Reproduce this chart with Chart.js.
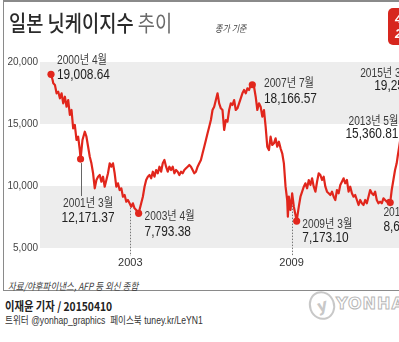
<!DOCTYPE html>
<html><head><meta charset="utf-8">
<script src="https://cdn.jsdelivr.net/npm/chart.js@4"></script>
<style>
html,body{margin:0;padding:0;width:399px;height:342px;overflow:hidden;background:#fff;}
#wrap{position:relative;width:399px;height:342px;overflow:hidden;}
#frame{position:absolute;left:3px;top:0px;width:470px;height:291px;border:1px solid #8a8a8a;border-top-width:2px;box-sizing:border-box;}
#cv{position:absolute;left:0;top:0;}
.txt{position:absolute;white-space:nowrap;line-height:1;transform-origin:0 0;font-family:'Noto Sans CJK KR',sans-serif;}
#title{left:9px;top:10px;font-size:22px;transform:scaleX(0.85);}
#title .t1{color:#2a2a2a;font-weight:500;}
#title .t2{color:#6a6a6a;font-weight:400;}
#basis{left:215px;top:24px;font-size:9.5px;font-style:italic;color:#444;transform:scaleX(0.85);}
#src{left:8px;top:281px;font-size:10px;font-style:italic;color:#3a3a3a;transform:scaleX(0.85);}
#by{left:5px;top:300px;font-size:12px;font-weight:700;color:#222;transform:scaleX(0.86);}
#sns{left:5px;top:315.5px;font-size:10px;color:#333;transform:scaleX(0.86);font-family:'Liberation Sans','Noto Sans CJK KR',sans-serif;}
#badge{position:absolute;left:388px;top:8px;width:60px;height:37px;background:#d7261e;border-radius:5px;color:#fff;font-family:'Liberation Sans','Noto Sans CJK KR',sans-serif;font-weight:700;font-style:italic;font-size:13px;line-height:15px;padding:3px 0 0 7px;box-sizing:border-box;white-space:nowrap;}
#logo{position:absolute;left:309px;top:291px;width:22px;height:25px;border:2px solid #c8c8c8;border-radius:50%;transform:rotate(-20deg);color:#c8c8c8;font:italic 700 16px 'DejaVu Sans';text-align:center;line-height:25px;}
#yon{position:absolute;left:336px;top:294px;font:700 16px 'DejaVu Sans',sans-serif;letter-spacing:1px;color:#fff;-webkit-text-stroke:1px #b8b8b8;white-space:nowrap;}
</style></head>
<body><div id="wrap">
<div id="frame"></div>
<canvas id="cv" width="480" height="272"></canvas>
<div id="title" class="txt"><span class="t1">일본 닛케이지수</span> <span class="t2">추이</span></div>
<div id="basis" class="txt">종가 기준</div>
<div id="badge">4월 10일<br>20,006</div>
<div id="src" class="txt">자료/야후파이낸스, AFP 등 외신 종합</div>
<div id="by" class="txt">이재윤 기자 / 20150410</div>
<div id="sns" class="txt">트위터 @yonhap_graphics &nbsp;페이스북 tuney.kr/LeYN1</div>
<div id="logo">y</div>
<div id="yon">YONHAP</div>
</div>
<script>
// ---- data ----
const years = [
2000.05,2000.110,2000.135,2000.196,2000.258,2000.320,2000.381,2000.443,2000.505,2000.567,2000.629,2000.690,2000.752,2000.814,2000.875,2000.937,2000.999,2001.060,2001.122,2001.15,
2001.221,2001.307,2001.369,2001.431,2001.493,2001.554,2001.616,2001.678,2001.740,2001.801,2001.863,2001.925,2001.986,2002.048,2002.110,2002.171,2002.233,2002.295,2002.357,2002.419,
2002.480,2002.542,2002.604,2002.666,2002.727,2002.789,2002.851,2002.912,2002.974,2003.036,2003.097,2003.159,2003.221,2003.31,2003.406,2003.468,2003.530,2003.591,2003.653,2003.715,
2003.777,2003.838,2003.900,2003.962,2004.023,2004.085,2004.147,2004.208,2004.270,2004.332,2004.394,2004.456,2004.517,2004.579,2004.641,2004.703,2004.764,2004.826,2004.888,2004.949,
2005.011,2005.073,2005.134,2005.196,2005.258,2005.320,2005.381,2005.443,2005.505,2005.567,2005.628,2005.690,2005.752,2005.814,2005.875,2005.937,2005.999,2006.060,2006.122,2006.184,
2006.246,2006.307,2006.369,2006.431,2006.493,2006.554,2006.616,2006.678,2006.740,2006.801,2006.863,2006.925,2006.986,2007.048,2007.110,2007.171,2007.233,2007.295,2007.357,2007.419,
2007.480,2007.54,2007.604,2007.666,2007.727,2007.789,2007.851,2007.912,2007.974,2008.036,2008.097,2008.159,2008.221,2008.283,2008.344,2008.406,2008.468,2008.530,2008.591,2008.653,
2008.715,2008.777,2008.838,2008.863,2008.900,2008.962,2009.023,2009.085,2009.147,2009.19,2009.270,2009.332,2009.394,2009.456,2009.517,2009.579,2009.641,2009.703,2009.764,2009.826,
2009.888,2009.949,2010.011,2010.073,2010.134,2010.196,2010.258,2010.320,2010.381,2010.443,2010.505,2010.567,2010.628,2010.690,2010.752,2010.814,2010.875,2010.937,2010.999,2011.060,
2011.122,2011.184,2011.246,2011.307,2011.369,2011.431,2011.493,2011.554,2011.616,2011.678,2011.740,2011.801,2011.863,2011.925,2011.986,2012.048,2012.110,2012.171,2012.233,2012.295,
2012.357,2012.419,2012.480,2012.542,2012.604,2012.67,2012.727,2012.789,2012.851,2012.912,2012.95,2013.0,2013.05,2013.1,2013.15,2013.2,2013.25,2013.3,2013.35,2013.4,
2013.5,2013.6,2013.7,2013.8,2013.9,2014.0,2014.1,2014.2,2014.3,2014.4,2014.5,2014.6,2014.7,2014.8,2014.9,2015.0,2015.1,2015.15,2015.2,2015.25,2015.27];
const closes = [
19008.64,18548,18280,18145,17476,17605,17073,17476,16669,17202,16395,16935,15726,16129,14653,14919,13710,13976,12903,12171.37,
13710,14379,13976,13169,12363,11830,11024,9815,10484,10750,10887,10347,10750,9944,10484,11024,11830,11557,11830,11024,
9944,10218,9677,9815,9137,9274,8734,8871,8605,8331,8605,8202,8065,7793.38,8605,9137,9944,10484,10750,10887,
10621,11153,10750,11290,11024,11557,11153,11830,12097,11557,11153,11557,11290,11557,11024,11290,11153,10887,11153,11024,
11290,11424,11557,11694,11557,11290,11024,11153,11557,11830,12097,12637,13169,13710,14250,14782,15323,16129,16395,16935,
17476,16669,16266,16129,14516,15323,15185,16129,16669,16532,16935,16129,16266,16669,17073,17476,17742,17476,17879,17742,
18145,18166.57,18008,17202,16129,16669,16395,15589,16129,14782,13169,12903,13976,13306,13443,13847,13169,13573,13040,12637,
11830,9944,8871,7524,9137,8065,9411,8331,7661,7173.10,8331,9137,9540,9944,10218,9815,10484,10081,10621,9944,
9540,10347,11024,10887,10484,10750,9944,9540,9411,9274,9540,9137,8871,9677,9411,10081,10347,10621,10218,10484,
9540,9944,9411,9137,9274,8871,8468,8871,8605,8468,8871,8605,9137,9677,9411,9274,9540,8871,8605,8734,
8605,9008,8871,8734,8871,8661.05,9677,10484,11290,11830,12400,13100,13800,14400,14900,15360.81,14200,13000,12600,13700,
14200,13500,14600,14200,15600,16100,14700,14500,14100,14600,15300,15400,16100,15400,17400,17300,17700,18600,19254.25,19100,19600];

const markYears  = [2000.05, 2001.15, 2003.31, 2007.54, 2009.19, 2012.67, 2013.2, 2015.2];
const markValues = [19008.64, 12171.37, 7793.38, 18166.57, 7173.10, 8661.05, 15360.81, 19254.25];
const markDates  = ['2000년 4월','2001년 3월','2003년 4월','2007년 7월','2009년 3월','2012년 11월','2013년 5월','2015년 3월'];
const markTexts  = ['19,008.64','12,171.37','7,793.38','18,166.57','7,173.10','8,661.05','15,360.81','19,254.25'];

const xTickLabels = [2003, 2009];
const yTickLabels = [5000, 10000, 15000, 20000];
const bandRanges = [[15000, 20000], [5000, 10000]];

// ---- styles / layout for annotation labels (pixel offsets) ----
const labelLayout = [
  {align:'left',   dx:6,   dy1:-10, dy2:5},
  {align:'center', dx:7.5, dy1:48,  dy2:63, leader:37},
  {align:'left',   dx:6,   dy1:6.6, dy2:22.6},
  {align:'left',   dx:11.7,dy1:2.3, dy2:18.6},
  {align:'left',   dx:5.7, dy1:6.5, dy2:21},
  {align:'left',   dx:-6.8,dy1:13,  dy2:28.5},
  {align:'right',  dx:-6,  dy1:5.5, dy2:18.5},
  {align:'left',   dx:-98, dx2:-84, dy1:5.8, dy2:18.8}
];

const RED = '#e1261c';
const X_PER_YEAR = 27, PLOT_LEFT = 40, CANVAS_W = 480, PAD_R = 2;
const xMin = 2003 - (130.7 - PLOT_LEFT) / X_PER_YEAR;
const xMax = xMin + (CANVAS_W - PAD_R - PLOT_LEFT) / X_PER_YEAR;

function valueAt(yr){
  for (let i = 1; i < years.length; i++){
    if (years[i] >= yr){
      const t = (yr - years[i-1]) / (years[i] - years[i-1]);
      return closes[i-1] + t * (closes[i] - closes[i-1]);
    }
  }
  return closes[closes.length-1];
}

const FONT = "'Liberation Sans','Noto Sans CJK KR',sans-serif";

const decor = {
  id:'decor',
  beforeDatasetsDraw(chart){
    const {ctx, chartArea:a, scales:{x, y}} = chart;
    ctx.save();
    ctx.fillStyle = '#ededed';
    bandRanges.forEach(([lo, hi]) => {
      const t = y.getPixelForValue(hi), b = y.getPixelForValue(lo);
      ctx.fillRect(a.left, t, a.right - a.left, b - t);
    });
    ctx.strokeStyle = '#777'; ctx.lineWidth = 1; ctx.setLineDash([1.5, 1.5]);
    xTickLabels.forEach(v => {
      const px = Math.round(x.getPixelForValue(v)) + 0.5;
      ctx.beginPath();
      ctx.moveTo(px, y.getPixelForValue(valueAt(v)));
      ctx.lineTo(px, a.bottom + 8);
      ctx.stroke();
    });
    ctx.restore();
  },
  afterDatasetsDraw(chart){
    const {ctx, scales:{x, y}} = chart;
    ctx.save();
    markYears.forEach((yr, i) => {
      const L = labelLayout[i];
      const px = x.getPixelForValue(yr), py = y.getPixelForValue(markValues[i]);
      if (L.leader){
        ctx.strokeStyle = '#666'; ctx.lineWidth = 1;
        ctx.beginPath();
        ctx.moveTo(Math.round(px) + 0.5, py + 4);
        ctx.lineTo(Math.round(px) + 0.5, py + L.leader);
        ctx.stroke();
      }
      const draw = (txt, size, color, tx, ty) => {
        ctx.save();
        ctx.translate(tx, ty);
        ctx.scale(0.85, 1);
        ctx.font = size + 'px ' + FONT;
        ctx.fillStyle = color;
        ctx.textAlign = L.align;
        ctx.textBaseline = 'alphabetic';
        ctx.fillText(txt, 0, 0);
        ctx.restore();
      };
      draw(markDates[i], 12, '#3a3a3a', px + L.dx, py + L.dy1);
      draw(markTexts[i], 14, '#222', px + (L.dx2 !== undefined ? L.dx2 : L.dx), py + L.dy2);
    });
    ctx.restore();
  }
};

new Chart(document.getElementById('cv'), {
  type: 'line',
  data: {
    datasets: [
      {
        data: markYears.map((v, i) => ({x: v, y: markValues[i]})),
        showLine: false, pointRadius: 3.6, pointBackgroundColor: RED,
        pointBorderWidth: 0, order: 0, clip: false
      },
      {
        data: years.map((v, i) => ({x: v, y: closes[i]})),
        borderColor: RED, borderWidth: 2.2, pointRadius: 0, tension: 0,
        borderJoinStyle: 'round', order: 1, fill: false
      }
    ]
  },
  options: {
    responsive: false, animation: false, devicePixelRatio: 1,
    layout: {padding: {top: 62, left: 0, right: PAD_R, bottom: 2}},
    plugins: {legend: {display: false}, tooltip: {enabled: false}},
    scales: {
      x: {
        type: 'linear', min: xMin, max: xMax,
        grid: {display: false, drawTicks: false}, border: {display: false},
        afterBuildTicks: s => { s.ticks = xTickLabels.map(v => ({value: v})); },
        afterFit: s => { s.height = 22; },
        ticks: {autoSkip: false, maxRotation: 0, padding: 8, color: '#333',
                font: {family: 'Liberation Sans', size: 11},
                callback: v => String(v)}
      },
      y: {
        type: 'linear', min: 5000, max: 20000,
        grid: {display: false, drawTicks: false}, border: {display: false},
        afterBuildTicks: s => { s.ticks = yTickLabels.map(v => ({value: v})); },
        afterFit: s => { s.width = PLOT_LEFT; },
        ticks: {padding: 2, color: '#444', font: {family: 'Liberation Sans', size: 10},
                callback: v => v.toLocaleString('en-US')}
      }
    }
  },
  plugins: [decor]
});
</script>
</body></html>
